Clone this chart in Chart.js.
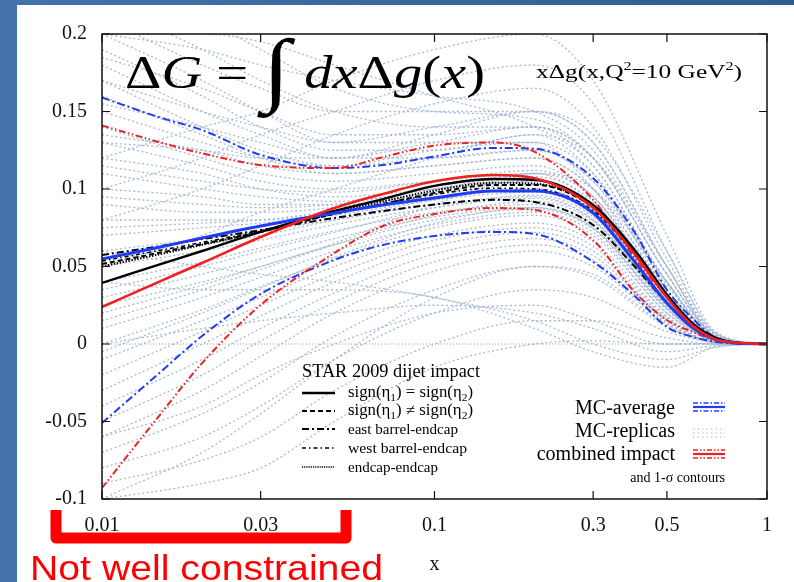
<!DOCTYPE html>
<html>
<head>
<meta charset="utf-8">
<script src="https://cdn.jsdelivr.net/npm/chart.js@4.4.0/dist/chart.umd.min.js"></script>
<style>
  html, body { margin: 0; padding: 0; background: #fff; }
  canvas { display: block; }
</style>
</head>
<body>
<canvas id="grafico" width="794" height="582"></canvas>
<script>
// Grade de x das curvas principais
const xGrade = [0.01, 0.015, 0.02, 0.03, 0.05, 0.07, 0.1, 0.15, 0.2, 0.3, 0.4, 0.5, 0.6, 0.7, 0.8, 1];

// MC-average (azul) e contornos de 1-sigma
const mcMedia    = [0.0548, 0.0626, 0.0684, 0.0761, 0.0845, 0.0897, 0.0942, 0.0987, 0.0987, 0.0845, 0.053, 0.0265, 0.0103, 0.003, 0.0008, 0];
const mcSuperior = [0.159, 0.146, 0.138, 0.122, 0.1135, 0.1155, 0.121, 0.1265, 0.126, 0.107, 0.072, 0.035, 0.016, 0.004, 0.001, 0];
const mcInferior = [-0.051, -0.018, 0.0052, 0.0323, 0.0542, 0.0639, 0.0697, 0.0723, 0.071, 0.053, 0.031, 0.011, 0.0045, 0.0015, 0.0003, 0];

// combined impact (vermelho) e contornos
const impactoMedia    = [0.0239, 0.0406, 0.0523, 0.069, 0.0877, 0.0968, 0.105, 0.109, 0.107, 0.088, 0.058, 0.030, 0.0116, 0.003, 0.001, 0];
const impactoSuperior = [0.141, 0.130, 0.123, 0.1155, 0.1135, 0.1206, 0.128, 0.130, 0.124, 0.093, 0.0555, 0.030, 0.012, 0.004, 0.001, 0];
const impactoInferior = [-0.0929, -0.0452, -0.0123, 0.0252, 0.0587, 0.0761, 0.0839, 0.0877, 0.0865, 0.067, 0.0335, 0.0155, 0.0077, 0.0025, 0.0006, 0];

// STAR 2009 dijet impact (curvas pretas)
const sinalIgual     = [0.0394, 0.0516, 0.060, 0.0723, 0.0858, 0.0935, 0.102, 0.1065, 0.106, 0.0897, 0.0606, 0.032, 0.013, 0.004, 0.001, 0];
const sinalDiferente = [0.0516, 0.059, 0.0645, 0.0723, 0.0839, 0.0903, 0.0974, 0.1026, 0.1026, 0.088, 0.0587, 0.031, 0.012, 0.004, 0.001, 0];
const barrilLeste    = [0.0574, 0.0632, 0.0677, 0.0735, 0.0813, 0.0858, 0.090, 0.093, 0.0916, 0.0768, 0.050, 0.0265, 0.0103, 0.003, 0.0008, 0];
const barrilOeste    = [0.0535, 0.0605, 0.0655, 0.0730, 0.0840, 0.0905, 0.0965, 0.1005, 0.1, 0.086, 0.0575, 0.0305, 0.0118, 0.0037, 0.0009, 0];
const endcapEndcap   = [0.050, 0.058, 0.064, 0.0725, 0.0850, 0.0920, 0.0990, 0.1040, 0.1035, 0.0885, 0.059, 0.031, 0.012, 0.0038, 0.0009, 0];

// Réplicas MC (pontilhadas)
const xReplicas = [0.01, 0.02, 0.03, 0.05, 0.1, 0.2, 0.3, 0.5, 0.7, 1];
const replicas = [
  [0.20, 0.17, 0.15, 0.13, 0.13, 0.13, 0.10, 0.03, 0.003, 0],
  [0.19, 0.16, 0.14, 0.125, 0.125, 0.135, 0.11, 0.035, 0.004, 0],
  [0.18, 0.15, 0.135, 0.12, 0.13, 0.14, 0.12, 0.045, 0.005, 0],
  [0.17, 0.14, 0.125, 0.115, 0.12, 0.125, 0.105, 0.04, 0.004, 0],
  [0.16, 0.135, 0.12, 0.11, 0.115, 0.12, 0.10, 0.035, 0.003, 0],
  [0.15, 0.13, 0.12, 0.115, 0.125, 0.13, 0.11, 0.04, 0.004, 0],
  [0.14, 0.12, 0.11, 0.105, 0.11, 0.115, 0.095, 0.03, 0.003, 0],
  [0.13, 0.115, 0.105, 0.10, 0.105, 0.11, 0.09, 0.028, 0.003, 0],
  [0.12, 0.11, 0.10, 0.095, 0.10, 0.105, 0.087, 0.027, 0.002, 0],
  [0.11, 0.10, 0.095, 0.092, 0.10, 0.11, 0.095, 0.03, 0.003, 0],
  [0.10, 0.095, 0.09, 0.09, 0.095, 0.10, 0.085, 0.025, 0.002, 0],
  [0.09, 0.085, 0.085, 0.088, 0.097, 0.103, 0.088, 0.028, 0.003, 0],
  [0.08, 0.08, 0.08, 0.085, 0.095, 0.10, 0.086, 0.027, 0.002, 0],
  [0.07, 0.075, 0.078, 0.083, 0.093, 0.098, 0.083, 0.026, 0.002, 0],
  [0.06, 0.068, 0.073, 0.08, 0.09, 0.095, 0.08, 0.025, 0.002, 0],
  [0.05, 0.06, 0.067, 0.077, 0.088, 0.094, 0.08, 0.026, 0.002, 0],
  [0.04, 0.053, 0.062, 0.073, 0.085, 0.09, 0.077, 0.024, 0.002, 0],
  [0.03, 0.045, 0.055, 0.068, 0.082, 0.088, 0.075, 0.023, 0.002, 0],
  [0.02, 0.038, 0.05, 0.064, 0.08, 0.087, 0.074, 0.022, 0.002, 0],
  [0.01, 0.03, 0.043, 0.06, 0.077, 0.085, 0.072, 0.02, 0.002, 0],
  [0.0, 0.022, 0.037, 0.055, 0.075, 0.083, 0.07, 0.02, 0.002, 0],
  [-0.01, 0.015, 0.03, 0.05, 0.07, 0.078, 0.066, 0.018, 0.001, 0],
  [-0.02, 0.008, 0.025, 0.045, 0.067, 0.075, 0.063, 0.017, 0.001, 0],
  [-0.03, 0.0, 0.018, 0.04, 0.063, 0.072, 0.06, 0.016, 0.001, 0],
  [-0.04, -0.01, 0.01, 0.033, 0.058, 0.068, 0.057, 0.015, 0.001, 0],
  [-0.05, -0.02, 0.002, 0.027, 0.053, 0.064, 0.054, 0.014, 0.001, 0],
  [-0.06, -0.03, -0.008, 0.02, 0.047, 0.06, 0.05, 0.013, 0.001, 0],
  [-0.07, -0.045, -0.025, 0.005, 0.035, 0.05, 0.043, 0.011, 0.001, 0],
  [-0.08, -0.06, -0.04, -0.01, 0.02, 0.035, 0.03, 0.008, 0.001, 0],
  [-0.09, -0.075, -0.06, -0.03, 0.0, 0.015, 0.015, 0.004, 0, 0],
  [-0.1, -0.09, -0.08, -0.05, -0.015, 0.0, 0.002, 0.0, 0, 0],
  [0.12, 0.14, 0.15, 0.17, 0.19, 0.2, 0.17, 0.07, 0.008, 0],
  [0.10, 0.12, 0.135, 0.15, 0.17, 0.18, 0.155, 0.06, 0.007, 0],
  [0.08, 0.10, 0.115, 0.135, 0.155, 0.165, 0.14, 0.055, 0.006, 0],
  [0.2, 0.19, 0.18, 0.17, 0.16, 0.15, 0.125, 0.05, 0.006, 0],
  [0.06, 0.05, 0.045, 0.04, 0.03, 0.015, 0.0, -0.01, -0.002, 0],
  [0.04, 0.035, 0.035, 0.035, 0.03, 0.01, -0.005, -0.015, -0.002, 0],
  [0.17, 0.15, 0.14, 0.13, 0.14, 0.15, 0.13, 0.05, 0.005, 0],
  [0.2, 0.2, 0.195, 0.18, 0.16, 0.14, 0.115, 0.04, 0.004, 0],
  [-0.1, -0.07, -0.045, -0.01, 0.03, 0.05, 0.045, 0.012, 0.001, 0],
  [0.22, 0.19, 0.17, 0.15, 0.14, 0.14, 0.115, 0.04, 0.004, 0],
  [0.24, 0.21, 0.19, 0.165, 0.15, 0.145, 0.12, 0.045, 0.005, 0],
  [0.21, 0.18, 0.165, 0.15, 0.15, 0.15, 0.13, 0.05, 0.005, 0],
  [0.185, 0.165, 0.15, 0.135, 0.135, 0.14, 0.12, 0.045, 0.005, 0],
  [0.155, 0.14, 0.13, 0.12, 0.12, 0.125, 0.105, 0.038, 0.004, 0],
  [0.135, 0.125, 0.115, 0.11, 0.115, 0.12, 0.1, 0.034, 0.003, 0],
  [0.115, 0.105, 0.1, 0.098, 0.105, 0.112, 0.095, 0.032, 0.003, 0],
  [0.095, 0.09, 0.088, 0.09, 0.1, 0.108, 0.092, 0.03, 0.003, 0],
  [0.075, 0.078, 0.08, 0.086, 0.098, 0.105, 0.09, 0.03, 0.003, 0],
  [0.055, 0.064, 0.07, 0.08, 0.093, 0.1, 0.086, 0.028, 0.002, 0],
  [0.035, 0.05, 0.06, 0.072, 0.088, 0.096, 0.082, 0.026, 0.002, 0],
  [0.015, 0.035, 0.048, 0.064, 0.083, 0.092, 0.079, 0.025, 0.002, 0],
  [-0.005, 0.02, 0.036, 0.056, 0.078, 0.088, 0.075, 0.023, 0.002, 0],
  [0.025, 0.04, 0.05, 0.065, 0.09, 0.11, 0.1, 0.04, 0.004, 0],
  [0.05, 0.07, 0.085, 0.1, 0.12, 0.135, 0.12, 0.05, 0.006, 0],
  [0.13, 0.125, 0.12, 0.12, 0.135, 0.15, 0.135, 0.06, 0.007, 0],
  [0.0, 0.01, 0.015, 0.02, 0.025, 0.02, 0.01, -0.005, -0.001, 0],
  [-0.06, -0.04, -0.02, 0.0, 0.02, 0.025, 0.015, 0.0, 0, 0]
];

// Linha do zero
const xZero = [0.01, 1];
const yZero = [0, 0];

// Ticks dos eixos
const xTicks = [0.01, 0.03, 0.1, 0.3, 0.5, 1];
const xTickLabels = ['0.01', '0.03', '0.1', '0.3', '0.5', '1'];
const yTicks = [-0.1, -0.05, 0, 0.05, 0.1, 0.15, 0.2];
const yTickLabels = ['-0.1', '-0.05', '0', '0.05', '0.1', '0.15', '0.2'];

// Cores e tracejados
const AZUL = '#1f3cf2';
const VERMELHO = '#f02020';
const PRETO = '#000000';
const CINZA_REPLICA = 'rgba(158,178,205,0.9)';
const TRACO_PONTO = [8, 3, 2, 3];
const TRACO_2PONTOS = [7, 2.5, 1.5, 2.5, 1.5, 2.5];
const SERIF = '"Liberation Serif", "DejaVu Serif", serif';

function pontos(xs, ys) {
  return xs.map((x, i) => ({ x: x, y: ys[i] }));
}

function curva(xs, ys, cor, largura, tracejado, ordem) {
  return {
    data: pontos(xs, ys),
    borderColor: cor,
    borderWidth: largura,
    borderDash: tracejado,
    pointRadius: 0,
    fill: false,
    cubicInterpolationMode: 'monotone',
    order: ordem
  };
}

// Monta os datasets
const datasets = [
  curva(xGrade, impactoMedia, VERMELHO, 2.6, [], 1),
  curva(xGrade, mcMedia, AZUL, 3, [], 2),
  curva(xGrade, sinalIgual, PRETO, 2.4, [], 3),
  curva(xGrade, sinalDiferente, PRETO, 2, [5, 3], 4),
  curva(xGrade, endcapEndcap, PRETO, 2, [1.5, 1.5], 5),
  curva(xGrade, barrilOeste, PRETO, 1.6, [4, 3, 1.5, 3], 6),
  curva(xGrade, barrilLeste, PRETO, 2, [7, 3, 2, 3], 7),
  curva(xGrade, impactoSuperior, VERMELHO, 2, TRACO_2PONTOS, 8),
  curva(xGrade, impactoInferior, VERMELHO, 2, TRACO_2PONTOS, 9),
  curva(xGrade, mcSuperior, AZUL, 2, TRACO_PONTO, 10),
  curva(xGrade, mcInferior, AZUL, 2, TRACO_PONTO, 11),
  curva(xZero, yZero, '#9a9a9a', 1, [1, 2], 20)
];
replicas.forEach((r, i) => {
  datasets.push(curva(xReplicas, r, CINZA_REPLICA, 1.3, [2, 2.5], 30 + i));
});

// Texto com partes (itálico, sub/sobrescrito), ajustado a uma largura
function fonte(p) {
  return (p.it ? 'italic ' : '') + p.s + 'px ' + SERIF;
}
function escreveRico(c, partes, x, y, largura) {
  let total = 0;
  partes.forEach(p => { c.font = fonte(p); total += c.measureText(p.t).width; });
  const esc = largura ? largura / total : 1;
  c.save();
  c.translate(x, y);
  c.scale(esc, 1);
  c.textAlign = 'left';
  c.textBaseline = 'alphabetic';
  let px = 0;
  partes.forEach(p => {
    c.font = fonte(p);
    c.fillText(p.t, px, p.dy || 0);
    px += c.measureText(p.t).width;
  });
  c.restore();
}

function linhaAmostra(c, x1, x2, y, cor, largura, tracejado) {
  c.save();
  c.strokeStyle = cor;
  c.lineWidth = largura;
  c.setLineDash(tracejado);
  c.beginPath();
  c.moveTo(x1, y);
  c.lineTo(x2, y);
  c.stroke();
  c.restore();
}

const decoracao = {
  id: 'decoracao',
  beforeDraw(chart) {
    const c = chart.ctx;
    // fundo azul do slide
    const grad = c.createLinearGradient(0, 0, 794, 0);
    grad.addColorStop(0, '#4473ab');
    grad.addColorStop(1, '#2f5b92');
    c.fillStyle = grad;
    c.fillRect(0, 0, 794, 582);
    c.fillStyle = '#ffffff';
    c.fillRect(17, 5, 777, 577);
  },
  afterDatasetsDraw(chart) {
    const c = chart.ctx;
    const a = chart.chartArea;
    const sx = chart.scales.x;
    const sy = chart.scales.y;
    c.save();
    c.strokeStyle = '#111';
    c.lineWidth = 1.5;
    c.setLineDash([]);
    c.strokeRect(a.left, a.top, a.right - a.left, a.bottom - a.top);
    // ticks para dentro
    c.lineWidth = 1.2;
    c.beginPath();
    xTicks.forEach(v => {
      const px = sx.getPixelForValue(v);
      c.moveTo(px, a.bottom); c.lineTo(px, a.bottom - 8);
      c.moveTo(px, a.top); c.lineTo(px, a.top + 8);
    });
    yTicks.forEach(v => {
      const py = sy.getPixelForValue(v);
      c.moveTo(a.left, py); c.lineTo(a.left + 8, py);
      c.moveTo(a.right, py); c.lineTo(a.right - 8, py);
    });
    c.stroke();
    c.restore();
  },
  afterDraw(chart) {
    const c = chart.ctx;
    c.save();
    c.fillStyle = '#000';

    // Fórmula grande
    escreveRico(c, [
      { t: 'Δ', s: 46 }, { t: 'G', s: 46, it: 1 }, { t: ' = ', s: 46 },
      { t: '∫', s: 82, dy: 8, it: 1 }, { t: ' ', s: 46 },
      { t: 'dx', s: 46, it: 1 }, { t: 'Δ', s: 46 }, { t: 'g', s: 46, it: 1 },
      { t: '(', s: 46 }, { t: 'x', s: 46, it: 1 }, { t: ')', s: 46 }
    ], 125, 88, 360);

    // Rótulo no canto
    escreveRico(c, [
      { t: 'xΔg(x,Q', s: 19 }, { t: '2', s: 12, dy: -8 },
      { t: '=10 GeV', s: 19 }, { t: '2', s: 12, dy: -8 }, { t: ')', s: 19 }
    ], 536, 78, 206);

    // Legenda STAR
    escreveRico(c, [{ t: 'STAR 2009 dijet impact', s: 18 }], 302, 377, 178);
    const linhasY = [393, 411, 429, 448, 467];
    linhaAmostra(c, 302, 335, linhasY[0], PRETO, 2.4, []);
    linhaAmostra(c, 302, 335, linhasY[1], PRETO, 2, [5, 3]);
    linhaAmostra(c, 302, 335, linhasY[2], PRETO, 2, [7, 3, 2, 3]);
    linhaAmostra(c, 302, 335, linhasY[3], PRETO, 1.6, [4, 3, 1.5, 3]);
    linhaAmostra(c, 302, 335, linhasY[4], PRETO, 1.6, [1.2, 1]);
    escreveRico(c, [
      { t: 'sign(η', s: 16 }, { t: '1', s: 11, dy: 4 }, { t: ') = sign(η', s: 16 },
      { t: '2', s: 11, dy: 4 }, { t: ')', s: 16 }
    ], 348, linhasY[0] + 4, 125);
    escreveRico(c, [
      { t: 'sign(η', s: 16 }, { t: '1', s: 11, dy: 4 }, { t: ') ≠ sign(η', s: 16 },
      { t: '2', s: 11, dy: 4 }, { t: ')', s: 16 }
    ], 348, linhasY[1] + 4, 125);
    escreveRico(c, [{ t: 'east barrel-endcap', s: 15 }], 348, linhasY[2] + 5, 110);
    escreveRico(c, [{ t: 'west barrel-endcap', s: 15 }], 348, linhasY[3] + 5, 119);
    escreveRico(c, [{ t: 'endcap-endcap', s: 15 }], 348, linhasY[4] + 5);

    // Legenda MC / combined
    c.textAlign = 'right';
    c.textBaseline = 'alphabetic';
    c.font = '20px ' + SERIF;
    c.fillText('MC-average', 675, 414);
    c.fillText('MC-replicas', 675, 437);
    c.fillText('combined impact', 675, 460);
    c.font = '14px ' + SERIF;
    c.fillText('and 1-σ contours', 725, 482);
    linhaAmostra(c, 693, 725, 403, AZUL, 1.6, [5, 2, 1.5, 2]);
    linhaAmostra(c, 693, 725, 407, AZUL, 2.2, []);
    linhaAmostra(c, 693, 725, 411, AZUL, 1.6, [5, 2, 1.5, 2]);
    linhaAmostra(c, 693, 725, 429, CINZA_REPLICA, 1.2, [1.5, 3]);
    linhaAmostra(c, 693, 725, 433, CINZA_REPLICA, 1.2, [1.5, 3]);
    linhaAmostra(c, 693, 725, 437, CINZA_REPLICA, 1.2, [1.5, 3]);
    linhaAmostra(c, 693, 725, 450, VERMELHO, 1.6, [5, 2, 1.5, 2, 1.5, 2]);
    linhaAmostra(c, 693, 725, 454, VERMELHO, 2.2, []);
    linhaAmostra(c, 693, 725, 458, VERMELHO, 1.6, [5, 2, 1.5, 2, 1.5, 2]);

    // Colchete vermelho e anotação
    c.strokeStyle = '#ff0000';
    c.lineWidth = 11;
    c.lineJoin = 'round';
    c.setLineDash([]);
    c.beginPath();
    c.moveTo(56, 510);
    c.lineTo(56, 538);
    c.lineTo(346, 538);
    c.lineTo(346, 510);
    c.stroke();

    c.fillStyle = '#ff0000';
    c.textAlign = 'left';
    c.font = '35px "Liberation Sans", Arial, sans-serif';
    const w = c.measureText('Not well constrained').width;
    c.save();
    c.translate(30, 580);
    c.scale(353 / w, 1);
    c.fillText('Not well constrained', 0, 0);
    c.restore();

    c.restore();
  }
};

// Cria o gráfico
const ctx = document.getElementById('grafico').getContext('2d');
const meuGrafico = new Chart(ctx, {
  type: 'line',
  data: { datasets: datasets },
  plugins: [decoracao],
  options: {
    responsive: false,
    animation: false,
    events: [],
    layout: { padding: { left: 0, top: 34, right: 27, bottom: 0 } },
    plugins: {
      legend: { display: false },
      tooltip: { enabled: false }
    },
    scales: {
      x: {
        type: 'logarithmic',
        min: 0.01,
        max: 1,
        grid: { display: false, drawTicks: false },
        border: { display: false },
        afterBuildTicks: (scale) => { scale.ticks = xTicks.map(v => ({ value: v })); },
        afterFit: (scale) => { scale.height = 83; },
        ticks: {
          autoSkip: false,
          maxRotation: 0,
          padding: 15,
          color: '#111',
          font: { family: SERIF, size: 20 },
          callback: (v) => xTickLabels[xTicks.indexOf(v)]
        },
        title: {
          display: true,
          text: 'x',
          color: '#111',
          font: { family: SERIF, size: 20 },
          padding: { top: 0, bottom: 5 }
        }
      },
      y: {
        type: 'linear',
        min: -0.1,
        max: 0.2,
        grid: { display: false, drawTicks: false },
        border: { display: false },
        afterBuildTicks: (scale) => { scale.ticks = yTicks.map(v => ({ value: v })); },
        afterFit: (scale) => { scale.width = 102; },
        ticks: {
          padding: 15,
          color: '#111',
          font: { family: SERIF, size: 20 },
          callback: (v) => yTickLabels[yTicks.indexOf(v)]
        }
      }
    }
  }
});
</script>
</body>
</html>
